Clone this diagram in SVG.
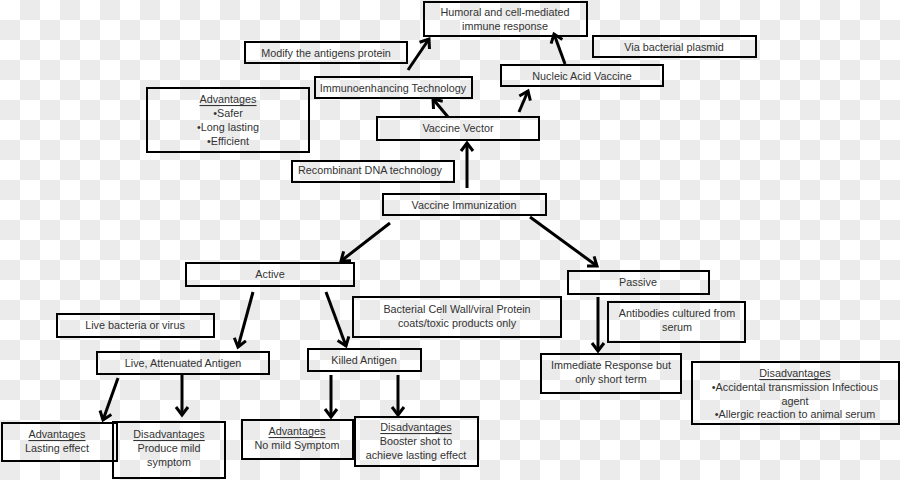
<svg xmlns="http://www.w3.org/2000/svg" width="900" height="480" viewBox="0 0 900 480">
<defs>
<pattern id="checker" x="0" y="0" width="40" height="40" patternUnits="userSpaceOnUse">
<rect width="40" height="40" fill="#ffffff"/>
<rect x="20" y="0" width="20" height="20" fill="#ebebeb"/>
<rect x="0" y="20" width="20" height="20" fill="#ebebeb"/>
</pattern>
<marker id="arr" markerUnits="userSpaceOnUse" markerWidth="16" markerHeight="16" refX="10" refY="8" orient="auto">
<path d="M2,2 L10,8 L2,14" fill="none" stroke="#000" stroke-width="3" stroke-linejoin="miter"/>
</marker>
</defs>
<style>
.box{fill:none;stroke:#000;stroke-width:2}
.t{font-family:"Liberation Sans",Arial,sans-serif;font-size:10.8px;fill:#333333;text-anchor:middle;dominant-baseline:central}
.u{text-decoration:underline}
.c{stroke:#000;stroke-width:3;fill:none;marker-end:url(#arr)}
</style>
<rect width="900" height="480" fill="url(#checker)"/>

<g id="connectors">
<line class="c" x1="408" y1="70" x2="429" y2="39"/>
<line class="c" x1="565" y1="64" x2="554" y2="34"/>
<line class="c" x1="448" y1="117" x2="433" y2="99"/>
<line class="c" x1="519" y1="112" x2="528" y2="91"/>
<line class="c" x1="467" y1="188" x2="467" y2="143"/>
<line class="c" x1="390" y1="223" x2="341" y2="261"/>
<line class="c" x1="530" y1="217" x2="597" y2="266"/>
<line class="c" x1="253" y1="292" x2="238" y2="347"/>
<line class="c" x1="326" y1="292" x2="346" y2="346"/>
<line class="c" x1="598" y1="297" x2="598" y2="351"/>
<line class="c" x1="118" y1="378" x2="103" y2="420"/>
<line class="c" x1="182" y1="375" x2="182" y2="415"/>
<line class="c" x1="331" y1="375" x2="331" y2="417"/>
<line class="c" x1="398" y1="375" x2="398" y2="415"/>
</g>

<g id="humoral"><rect class="box" x="424" y="2" width="163" height="34"/>
<text class="t" x="505" y="12">Humoral and cell-mediated</text>
<text class="t" x="505" y="26">immune response</text></g>

<g id="modify"><rect class="box" x="245" y="42" width="162" height="21"/>
<text class="t" x="326" y="53">Modify the antigens protein</text></g>

<g id="plasmid"><rect class="box" x="593" y="36" width="163" height="21"/>
<text class="t" x="674" y="47">Via bacterial plasmid</text></g>

<g id="nucleic"><rect class="box" x="501" y="65" width="162" height="21"/>
<text class="t" x="582" y="76">Nucleic Acid Vaccine</text></g>

<g id="immunoenhancing"><rect class="box" x="315" y="77" width="157" height="21"/>
<text class="t" x="393" y="88">Immunoenhancing Technology</text></g>

<g id="adv-vector"><rect class="box" x="147" y="88" width="162" height="64"/>
<text class="t u" x="228" y="99">Advantages</text>
<text class="t" x="228" y="113">•Safer</text>
<text class="t" x="228" y="127">•Long lasting</text>
<text class="t" x="228" y="141">•Efficient</text></g>

<g id="vector"><rect class="box" x="377" y="117" width="162" height="23"/>
<text class="t" x="458" y="128">Vaccine Vector</text></g>

<g id="recombinant"><rect class="box" x="292" y="161" width="162" height="21"/>
<text class="t" x="370" y="170">Recombinant DNA technology</text></g>

<g id="immunization"><rect class="box" x="383" y="194" width="163" height="21"/>
<text class="t" x="464" y="205">Vaccine Immunization</text></g>

<g id="active"><rect class="box" x="186" y="263" width="168" height="23"/>
<text class="t" x="270" y="274">Active</text></g>

<g id="passive"><rect class="box" x="568" y="271" width="141" height="23"/>
<text class="t" x="638" y="282">Passive</text></g>

<g id="live-bacteria"><rect class="box" x="57" y="314" width="157" height="23"/>
<text class="t" x="135" y="325">Live bacteria or virus</text></g>

<g id="bacterial-wall"><rect class="box" x="353" y="297" width="208" height="40"/>
<text class="t" x="457" y="309">Bacterial Cell Wall/viral Protein</text>
<text class="t" x="457" y="323">coats/toxic products only</text></g>

<g id="antibodies"><rect class="box" x="608" y="302" width="137" height="40"/>
<text class="t" x="677" y="313">Antibodies cultured from</text>
<text class="t" x="677" y="327">serum</text></g>

<g id="live-attenuated"><rect class="box" x="97" y="352" width="172" height="22"/>
<text class="t" x="183" y="363">Live, Attenuated Antigen</text></g>

<g id="killed"><rect class="box" x="308" y="349" width="113" height="22"/>
<text class="t" x="364" y="360">Killed Antigen</text></g>

<g id="immediate"><rect class="box" x="541" y="354" width="140" height="39"/>
<text class="t" x="611" y="365">Immediate Response but</text>
<text class="t" x="611" y="379">only short term</text></g>

<g id="disadv-passive"><rect class="box" x="692" y="362" width="207" height="62"/>
<text class="t u" x="795" y="373">Disadvantages</text>
<text class="t" x="795" y="387">•Accidental transmission Infectious</text>
<text class="t" x="795" y="401">agent</text>
<text class="t" x="795" y="414">•Allergic reaction to animal serum</text></g>

<g id="adv-live"><rect class="box" x="2" y="423" width="115" height="38"/>
<text class="t u" x="57" y="434">Advantages</text>
<text class="t" x="57" y="448">Lasting effect</text></g>

<g id="disadv-live"><rect class="box" x="113" y="422" width="112" height="56"/>
<text class="t u" x="169" y="434">Disadvantages</text>
<text class="t" x="169" y="448">Produce mild</text>
<text class="t" x="169" y="462">symptom</text></g>

<g id="adv-killed"><rect class="box" x="242" y="420" width="111" height="39"/>
<text class="t u" x="297" y="431">Advantages</text>
<text class="t" x="297" y="445">No mild Symptom</text></g>

<g id="disadv-killed"><rect class="box" x="355" y="417" width="123" height="49"/>
<text class="t u" x="416" y="427">Disadvantages</text>
<text class="t" x="416" y="441">Booster shot to</text>
<text class="t" x="416" y="455">achieve lasting effect</text></g>
</svg>
